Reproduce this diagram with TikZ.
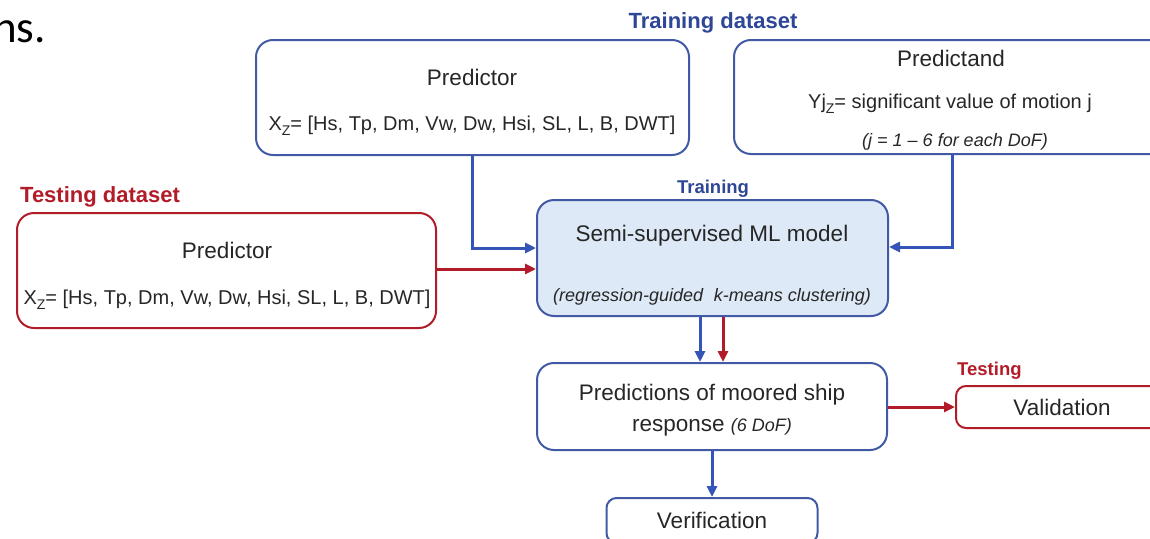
\documentclass[tikz,border=0pt]{standalone}
\usepackage{fontspec}
\setmainfont{Liberation Sans}
\newfontfamily\capfont{Carlito}
\usetikzlibrary{arrows.meta}
\definecolor{bxblue}{RGB}{66,90,165}
\definecolor{arblue}{RGB}{52,84,184}
\definecolor{lblblue}{RGB}{46,70,150}
\definecolor{myred}{RGB}{178,28,40}
\definecolor{mlfill}{RGB}{221,233,246}
\begin{document}
\begin{tikzpicture}[x=1pt,y=-1pt,
  bbox/.style={draw=#1, line width=2pt, rounded corners=17pt, inner sep=0pt, shape=rectangle},
  txt/.style={inner sep=0pt, anchor=base, text=black!85},
  tA/.style={font=\fontsize{22.5}{26}\selectfont},
  tB/.style={font=\fontsize{20}{24}\selectfont},
  tI/.style={font=\fontsize{18}{22}\selectfont\itshape},
  lbl/.style={inner sep=0pt, anchor=base, font=\fontsize{22}{26}\selectfont\bfseries},
  lbls/.style={inner sep=0pt, anchor=base, font=\fontsize{18.5}{22}\selectfont\bfseries},
  barrow/.style={draw=arblue, line width=3pt, -{Triangle[length=11pt,width=10pt]}},
  rarrow/.style={draw=myred, line width=3pt, -{Triangle[length=11pt,width=10pt]}}
]
\useasboundingbox (0,0) rectangle (1150,538);
\clip (0,0) rectangle (1150,538);

% caption fragment
\node[inner sep=0pt, anchor=base east, font=\fontsize{45}{50}\selectfont\capfont] (cap) at (46,42) {ns.};

% boxes
\node[bbox=bxblue, minimum width=433pt, minimum height=115pt] (tp) at (472.5,97.5) {};
\node[bbox=bxblue, minimum width=435pt, minimum height=114pt] (pd) at (951.5,97) {};
\node[bbox=myred, minimum width=419pt, minimum height=115pt] (tsp) at (226.5,270.5) {};
\node[bbox=bxblue, fill=mlfill, minimum width=351pt, minimum height=116pt] (ml) at (712.5,258) {};
\node[bbox=bxblue, minimum width=350pt, minimum height=87pt] (pr) at (712,406.5) {};
\node[bbox=myred, rounded corners=10pt, minimum width=210pt, minimum height=42pt] (va) at (1061,407) {};
\node[bbox=bxblue, rounded corners=10pt, minimum width=211pt, minimum height=45pt] (ve) at (712,520.5) {};

% labels
\node[lbl, text=lblblue] (lTD) at (713,28) {Training dataset};
\node[lbl, text=myred, anchor=base west] (lTS) at (20,202) {Testing dataset};
\node[lbls, text=lblblue] (lTr) at (713,193) {Training};
\node[lbls, text=myred, anchor=base west] (lTe) at (957,375) {Testing};

% texts
\node[txt, tA] (tp1) at (472,85) {Predictor};
\node[txt, tB] (tp2) at (472,130) {X\raisebox{-5pt}{\fontsize{14}{14}\selectfont Z}= [Hs, Tp, Dm, Vw, Dw, Hsi, SL, L, B, DWT]};
\node[txt, tA] (pd1) at (951,66) {Predictand};
\node[txt, tB] (pd2) at (950,108) {Yj\raisebox{-5pt}{\fontsize{14}{14}\selectfont Z}= significant value of motion j};
\node[txt, tI] (pd3) at (955,146) {(j = 1 \textendash{} 6 for each DoF)};
\node[txt, tA] (ts1) at (227,258) {Predictor};
\node[txt, tB] (ts2) at (227,304) {X\raisebox{-5pt}{\fontsize{14}{14}\selectfont Z}= [Hs, Tp, Dm, Vw, Dw, Hsi, SL, L, B, DWT]};
\node[txt, tA] (ml1) at (712,241) {Semi-supervised ML model};
\node[txt, tI] (ml2) at (712,301) {(regression-guided\hspace{0.6em}k-means clustering)};
\node[txt, tA] (pr1) at (712,400) {Predictions of moored ship};
\node[txt, tA] (pr2) at (712,431) {response {\fontsize{18}{22}\selectfont\itshape (6 DoF)}};
\node[txt, tA] (va1) at (1062,415) {Validation};
\node[txt, tA] (ve1) at (712,528) {Verification};

% connectors
\coordinate (c1) at (472,248);
\coordinate (c2) at (952,247);
\draw[barrow] (tp.south -| c1) -- (c1) -- (c1 -| ml.west);
\draw[rarrow] (tsp.east |- 0,269) -- (ml.west |- 0,269);
\draw[barrow] (pd.south -| c2) -- (c2) -- (c2 -| ml.east);
\draw[barrow] (ml.south -| 700,0) -- (pr.north -| 700,0);
\draw[rarrow] (ml.south -| 723,0) -- (pr.north -| 723,0);
\draw[rarrow] (pr.east |- va.west) -- (va.west);
\draw[barrow] (pr.south) -- (ve.north);
\end{tikzpicture}
\end{document}
